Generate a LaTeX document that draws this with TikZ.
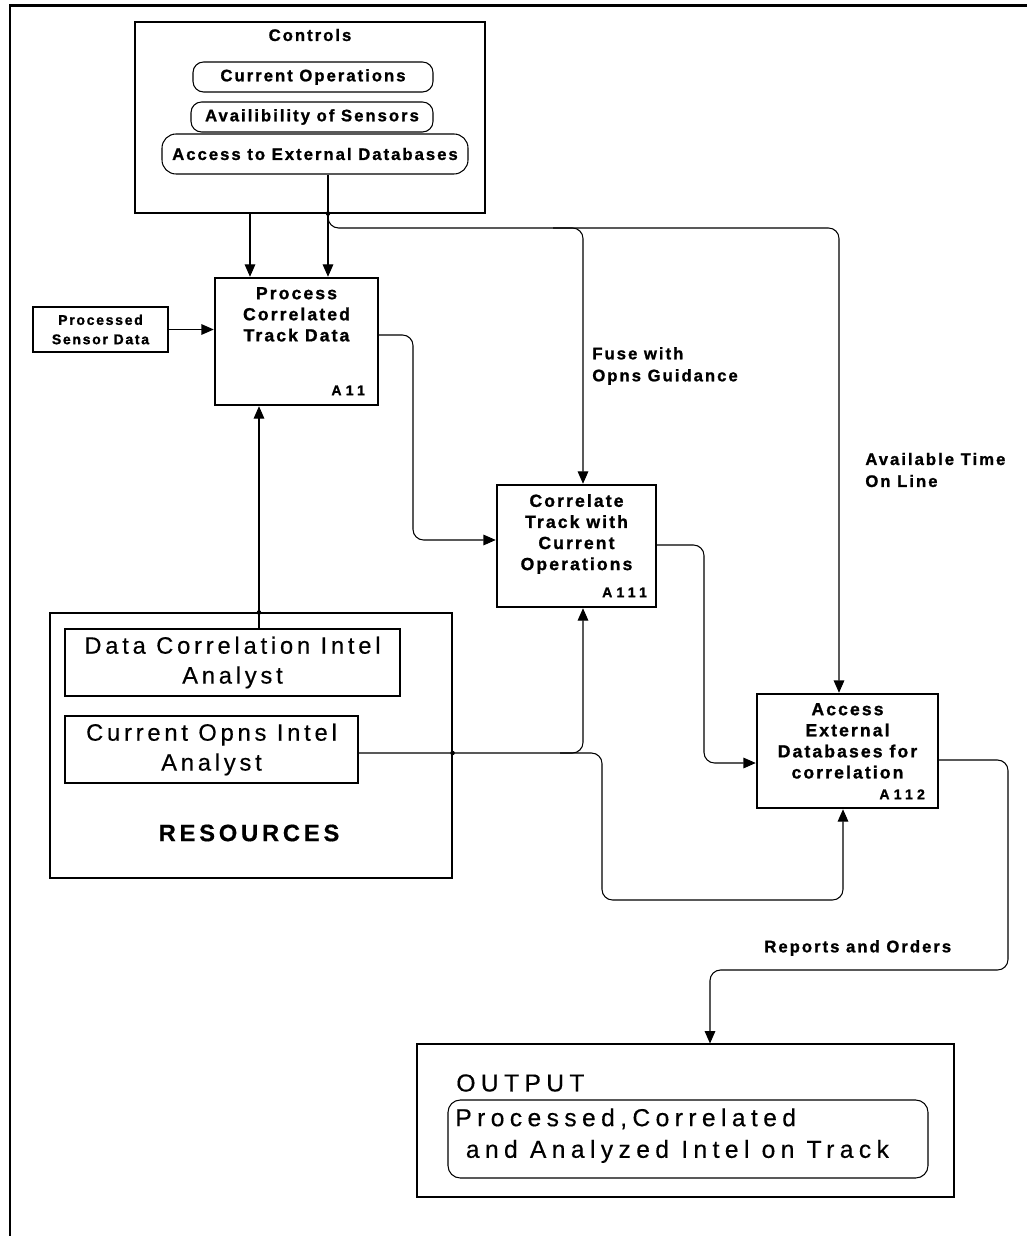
\documentclass[tikz,border=0pt]{standalone}
\usepackage{fontspec}
\setmainfont{Liberation Sans}
\newfontfamily\plotsans{Liberation Sans}[LetterSpace=12, BoldFeatures={FakeBold=1.2}]
\newfontfamily\plottitle{Liberation Sans}[LetterSpace=12, BoldFeatures={FakeBold=1.2}]
\newfontfamily\platesans{Liberation Sans}[LetterSpace=16, FakeBold=0.4, BoldFeatures={FakeBold=0.6}]
\newfontfamily\tagsans{Liberation Sans}[LetterSpace=30, BoldFeatures={FakeBold=1.2}]
\newfontfamily\outsans{Liberation Sans}[LetterSpace=22, FakeBold=0.4]
\usetikzlibrary{arrows.meta,fit,calc}

\begin{document}
\begin{tikzpicture}[
  x=0.02cm, y=-0.02cm,
  wire/.style={line width=0.6pt, rounded corners=6pt},
  flow/.style={wire, -{Triangle[length=7pt,width=6pt]}},
  region/.style={draw, line width=0.6pt, inner sep=0pt},
  activity/.style={draw, line width=1.4pt, inner sep=0pt},
  pill/.style={draw, line width=0.6pt, rounded corners=6pt, inner sep=0pt},
  txt/.style={inner sep=0pt},
  smallbold/.style={txt, font=\plotsans\bfseries\fontsize{9.5}{11}\selectfont},
  sensorfont/.style={txt, align=center, font=\plotsans\bfseries\fontsize{8}{11}\selectfont},
  callout/.style={txt, align=left, font=\plotsans\bfseries\fontsize{9.5}{12.5}\selectfont},
  acttitle/.style={txt, align=center, font=\plottitle\bfseries\fontsize{10}{12}\selectfont},
  acttag/.style={txt, font=\tagsans\bfseries\fontsize{8}{9}\selectfont},
  bigtext/.style={txt, align=center, font=\platesans\fontsize{13.5}{17}\selectfont},
  outtext/.style={txt, font=\outsans\fontsize{14}{18}\selectfont},
  junction/.style={circle, fill, inner sep=0pt, minimum size=2.6pt},
]
\useasboundingbox (0,0) rectangle (1027,1236);

% sheet frame (left and top edges)
\draw[line width=1.7pt] (10,1236) -- (10,6) -- (1027,6);

% ---------------- controls ----------------
\node[region, fit={(135,22) (485,213)}] (ctl) {};
\node[smallbold] (ctltitle) at (310,35) {Controls};
\node[pill, fit={(193,62) (433,92)}] (curop) {};
\node[smallbold] (curopt) at (curop.center) {Current Operations};
\node[pill, fit={(191,102) (433,132)}] (avail) {};
\node[smallbold] (availt) at (avail.center) {Availibility of Sensors};
\node[pill, rounded corners=8pt, fit={(162,134) (468,174)}] (access) {};
\node[smallbold] (accesst) at (access.center) {Access to External Databases};

% ---------------- input ----------------
\node[region, fit={(33,307) (168,352)}] (sens) {};
\node[sensorfont] (senst) at (sens.center) {Processed\\Sensor Data};

% ---------------- activities ----------------
\node[activity, fit={(215,278) (378,405)}] (a11) {};
\node[acttitle, anchor=north] (a11t) at ($(a11.north)+(0,10)$) {Process\\Correlated\\Track Data};
\node[acttag, anchor=base east] (a11n) at ($(a11.south east)+(-14,-11)$) {A11};

\node[activity, fit={(497,485) (656,607)}] (a111) {};
\node[acttitle, anchor=north] (a111t) at ($(a111.north)+(0,10)$) {Correlate\\Track with\\Current\\Operations};
\node[acttag, anchor=base east] (a111n) at ($(a111.south east)+(-10,-11)$) {A111};

\node[activity, fit={(757,694) (938,808)}] (a112) {};
\node[acttitle, anchor=north] (a112t) at ($(a112.north)+(0,10)$) {Access\\External\\Databases for\\correlation};
\node[acttag, anchor=base east] (a112n) at ($(a112.south east)+(-14,-10)$) {A112};

% ---------------- resources ----------------
\node[region, fit={(50,613) (452,878)}] (res) {};
\node[region, fit={(65,629) (400,696)}] (dca) {};
\node[bigtext] (dcat) at (dca.center) {Data Correlation Intel\\Analyst};
\node[region, fit={(65,716) (358,783)}] (coa) {};
\node[bigtext] (coat) at (coa.center) {Current Opns Intel\\Analyst};
\node[txt, font=\platesans\bfseries\fontsize{13.5}{17}\selectfont] (restitle) at (249,833) {RESOURCES};

% ---------------- output ----------------
\node[region, fit={(417,1044) (954,1197)}] (out) {};
\node[outtext, anchor=west] (outtitle) at (456,1083) {OUTPUT};
\node[pill, rounded corners=7pt, fit={(448,1100) (928,1178)}] (prod) {};
\node[outtext, anchor=north west, align=left] (prodtext) at (455,1108)
  {Processed,Correlated\\\hspace*{6pt}and Analyzed Intel on Track};

% ---------------- guide coordinates ----------------
\coordinate (xL) at (250,0);
\coordinate (xA) at (328,0);
\coordinate (xR) at (259,0);
\coordinate (xF) at (583,0);
\coordinate (xT) at (839,0);
\coordinate (xB) at (843,0);
\coordinate (xJ) at (560,0);
\coordinate (xS) at (602,0);
\coordinate (xP) at (413,0);
\coordinate (xD) at (704,0);
\coordinate (xE) at (1008,0);
\coordinate (xO) at (710,0);
\coordinate (yBus) at (0,228);
\coordinate (yP) at (0,335);
\coordinate (yC) at (0,540);
\coordinate (yQ) at (0,545);
\coordinate (yM) at (0,763);
\coordinate (yCO) at (0,753);
\coordinate (yLow) at (0,900);
\coordinate (yA) at (0,760);
\coordinate (yRep) at (0,970);

% ---------------- connectors ----------------
% controls into A11
\draw[flow] (ctl.south -| xL) -- (a11.north -| xL);
\draw[flow] (access.south -| xA) -- (a11.north -| xA);
% control bus to A111 and A112
\draw[flow] (ctl.south -| xA) |- (yBus -| xT) -- (a112.north -| xT);
\draw[flow] ($(yBus -| xF)+(-30,0)$) -| (a111.north -| xF);
% input
\draw[flow] (sens.east) -- (sens.east -| a11.west);
% A11 to A111
\draw[flow] (a11.east |- yP) -| (xP |- yC) -- (a111.west |- yC);
% A111 to A112
\draw[flow] (a111.east |- yQ) -| (xD |- yM) -- (a112.west |- yM);
% mechanisms
\draw[flow] (dca.north -| xR) -- (a11.south -| xR);
\draw[flow] (coa.east |- yCO) -| (a111.south -| xF);
\draw[flow] (xJ |- yCO) -| (xS |- yLow) -| (a112.south -| xB);
% output
\draw[flow] (a112.east |- yA) -| (xE |- yRep) -| (out.north -| xO);

% junction marks where wires cross region borders
\node[junction] (j1) at (ctl.south -| xA) {};
\node[junction] (j2) at (res.north -| xR) {};
\node[junction] (j3) at (res.east |- yCO) {};

% ---------------- arrow labels ----------------
\node[callout, anchor=west] (lfuse) at (592,366) {Fuse with\\Opns Guidance};
\node[callout, anchor=west] (ltime) at (865,470) {Available Time\\On Line};
\node[callout, anchor=west] (lrep) at (764,948) {Reports and Orders};
\end{tikzpicture}
\end{document}
